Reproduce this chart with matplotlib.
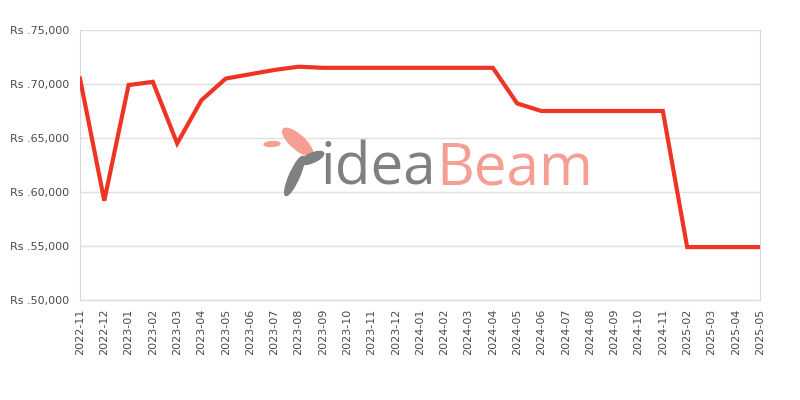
import matplotlib.pyplot as plt
from matplotlib.ticker import FuncFormatter
from matplotlib.patches import Ellipse
import numpy as np

months = ['2022-11', '2022-12', '2023-01', '2023-02', '2023-03', '2023-04', '2023-05',
          '2023-06', '2023-07', '2023-08', '2023-09', '2023-10', '2023-11', '2023-12',
          '2024-01', '2024-02', '2024-03', '2024-04', '2024-05', '2024-06', '2024-07',
          '2024-08', '2024-09', '2024-10', '2024-11', '2025-02', '2025-03', '2025-04',
          '2025-05']
prices = [70500, 59200, 69900, 70200, 64500, 68500, 70500,
          70900, 71300, 71600, 71500, 71500, 71500, 71500,
          71500, 71500, 71500, 71500, 68200, 67500, 67500,
          67500, 67500, 67500, 67500, 54900, 54900, 54900,
          54900]

fig = plt.figure(figsize=(8, 4), dpi=100)
ax = fig.add_axes([0.1, 0.25, 0.85, 0.675])

x = np.arange(len(months))
ax.plot(x, prices, color='#ee3424', linewidth=3, solid_joinstyle='miter', zorder=3)

ax.set_xlim(0, len(months) - 1)
ax.set_ylim(50000, 75000)
ax.set_yticks(np.arange(50000, 75001, 5000))
ax.yaxis.set_major_formatter(FuncFormatter(lambda v, p: 'Rs .{:,.0f}'.format(v)))
ax.set_xticks(x)
ax.set_xticklabels(months, rotation=90)

ax.grid(axis='y', color='#e0e0e0', linewidth=1)
ax.tick_params(length=0, labelsize=8, colors='#4a4a4a', pad=8)
ax.tick_params(axis='x', pad=6)
for s in ['left', 'right', 'bottom']:
    ax.spines[s].set_color('#d9d9d9')
ax.spines['top'].set_visible(False)

# watermark
fig.text(0.545, 0.578, 'idea', fontsize=42, color='#808080', family='Open Sans',
         weight='medium', ha='right', va='center', zorder=1)
fig.text(0.545, 0.578, 'Beam', fontsize=42, color='#f59e94', family='Open Sans',
         weight='medium', ha='left', va='center', zorder=1)
# rough bird/feather mark
fig.patches.append(Ellipse((0.368, 0.56), 0.013, 0.1, angle=-12, transform=fig.transFigure,
                           color='#808080', zorder=1))
fig.patches.append(Ellipse((0.372, 0.645), 0.022, 0.075, angle=25, transform=fig.transFigure,
                           color='#f59e94', zorder=1))
fig.patches.append(Ellipse((0.39, 0.605), 0.018, 0.04, angle=-40, transform=fig.transFigure,
                           color='#808080', zorder=1))
fig.patches.append(Ellipse((0.34, 0.64), 0.02, 0.012, angle=10, transform=fig.transFigure,
                           color='#f59e94', zorder=1))

fig.savefig('out.png', dpi=100)
